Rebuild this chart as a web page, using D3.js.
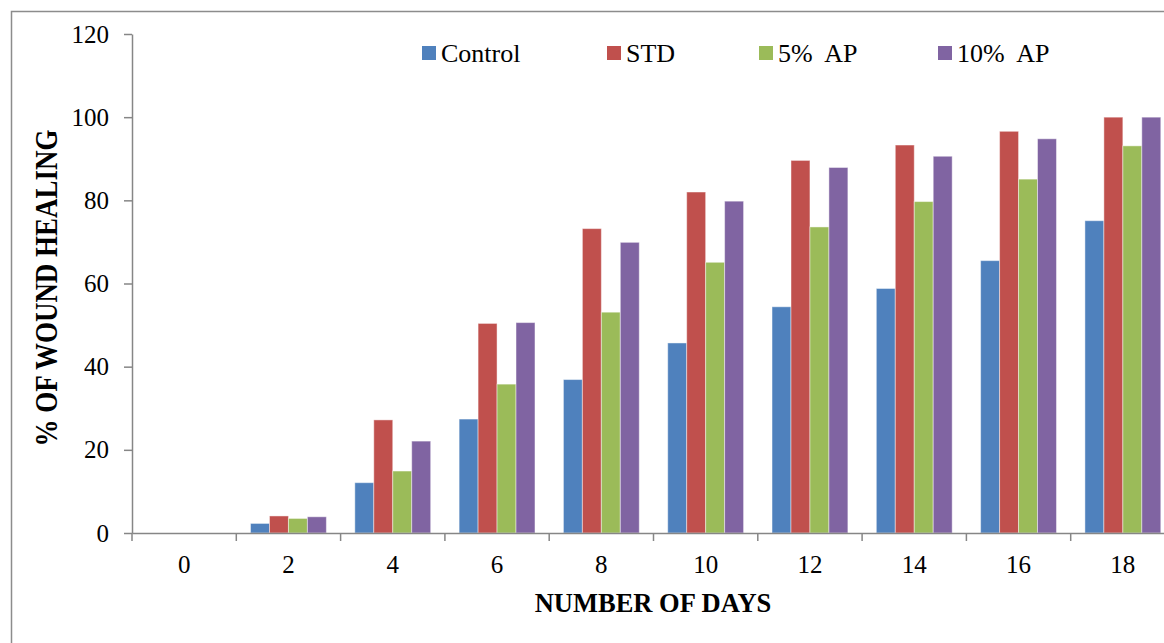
<!DOCTYPE html>
<html>
<head>
<meta charset="utf-8">
<script src="https://cdn.jsdelivr.net/npm/d3@7"></script>
<style>
  html, body { margin: 0; padding: 0; background: #fff; }
  svg { display: block; font-family: "Liberation Serif", "Times New Roman", serif; }
</style>
</head>
<body>
<svg id="chart" width="1164" height="643"></svg>
<script>
// Days of observation and percentage of wound healing per group
const days = ["0", "2", "4", "6", "8", "10", "12", "14", "16", "18"];
const seriesNames = ["Control", "STD", "5% AP", "10% AP"];
const control = [0, 2.3, 12.1, 27.4, 36.9, 45.7, 54.4, 58.8, 65.5, 75.1];
const std     = [0, 4.1, 27.2, 50.4, 73.2, 82.0, 89.6, 93.3, 96.6, 100];
const ap5     = [0, 3.5, 14.9, 35.8, 53.1, 65.1, 73.6, 79.7, 85.1, 93.1];
const ap10    = [0, 3.9, 22.1, 50.6, 69.9, 79.8, 87.9, 90.6, 94.8, 100];
const yTicks  = [0, 20, 40, 60, 80, 100, 120];
const colors  = ["#4F81BD", "#C0504D", "#9BBB59", "#8064A2"];

const seriesValues = [control, std, ap5, ap10];
const rows = days.map((d, i) => ({
  day: d,
  values: seriesNames.map((s, j) => ({ key: s, value: seriesValues[j][i] }))
}));

const svg = d3.select("#chart");

// Outer chart frame (runs past the right and bottom edges)
svg.append("rect")
  .attr("x", 11.5).attr("y", 11.5)
  .attr("width", 1200).attr("height", 660)
  .attr("fill", "none").attr("stroke", "#8c8c8c").attr("stroke-width", 1.5);

const plotLeft = 132, plotRight = 1175, plotTop = 34, plotBottom = 533;

const x = d3.scaleBand()
  .domain(days)
  .range([plotLeft, plotRight])
  .paddingInner(1.5 / 5.5)
  .paddingOuter(0.75 / 5.5);

const xs = d3.scaleBand()
  .domain(seriesNames)
  .range([0, x.bandwidth()])
  .padding(0);

const y = d3.scaleLinear().domain([0, 120]).range([plotBottom, plotTop]);

// Bars
const groups = svg.append("g").selectAll("g")
  .data(rows)
  .join("g")
  .attr("transform", d => `translate(${x(d.day)},0)`);

groups.selectAll("rect")
  .data(d => d.values)
  .join("rect")
  .attr("x", d => xs(d.key))
  .attr("y", d => y(d.value))
  .attr("width", xs.bandwidth())
  .attr("height", d => y(0) - y(d.value))
  .attr("fill", (d, i) => colors[i])
  .attr("stroke", "rgba(255,255,255,0.45)")
  .attr("stroke-width", 1);

// Y axis
const yAxis = svg.append("g")
  .attr("transform", `translate(${plotLeft},0)`)
  .call(d3.axisLeft(y).tickValues(yTicks).tickSize(8).tickSizeOuter(0).tickPadding(15));
yAxis.select(".domain").attr("stroke", "#868686").attr("stroke-width", 1.5);
yAxis.selectAll(".tick line").attr("stroke", "#868686").attr("stroke-width", 1.5);
yAxis.selectAll(".tick text")
  .attr("font-size", 25).attr("fill", "#000")
  .attr("font-family", "'Liberation Serif', 'Times New Roman', serif");

// X axis: labels centred on categories, tick marks on category boundaries
const xAxis = svg.append("g")
  .attr("transform", `translate(0,${plotBottom})`)
  .call(d3.axisBottom(x).tickSize(0).tickSizeOuter(0).tickPadding(22));
xAxis.select(".domain").attr("stroke", "#868686").attr("stroke-width", 1.5);
xAxis.selectAll(".tick text")
  .attr("font-size", 25).attr("fill", "#000")
  .attr("font-family", "'Liberation Serif', 'Times New Roman', serif");

const boundaries = days.map(d => x(d) - x.step() * x.paddingInner() / 2);
xAxis.selectAll("line.bound")
  .data(boundaries)
  .join("line")
  .attr("class", "bound")
  .attr("x1", d => d).attr("x2", d => d)
  .attr("y1", 0).attr("y2", 8)
  .attr("stroke", "#868686").attr("stroke-width", 1.5);

// Axis titles
svg.append("text")
  .attr("x", 653).attr("y", 612)
  .attr("text-anchor", "middle")
  .attr("font-weight", "bold").attr("font-size", 26.5)
  .text("NUMBER OF DAYS");

svg.append("text")
  .attr("transform", "translate(57,288) rotate(-90) scale(1,1.2)")
  .attr("text-anchor", "middle")
  .attr("font-weight", "bold").attr("font-size", 27)
  .text("% OF WOUND HEALING");

// Legend
const legendX = [422, 607, 759, 938];
const legend = svg.append("g").selectAll("g")
  .data(seriesNames)
  .join("g")
  .attr("transform", (d, i) => `translate(${legendX[i]},46)`);
legend.append("rect")
  .attr("width", 14).attr("height", 14)
  .attr("fill", (d, i) => colors[i]);
legend.append("text")
  .attr("x", 19).attr("y", 15.5)
  .attr("font-size", 26)
  .attr("xml:space", "preserve")
  .style("white-space", "pre")
  .text(d => d.replace(" ", "  "));
</script>
</body>
</html>
